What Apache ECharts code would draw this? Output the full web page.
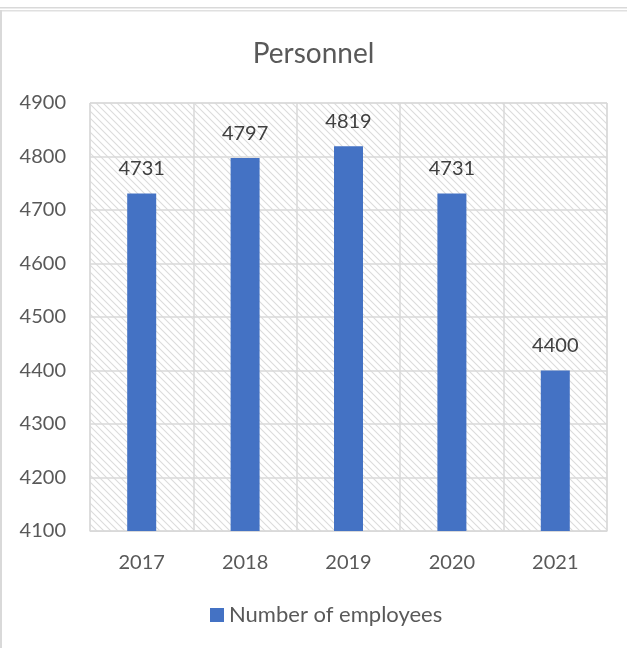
<!DOCTYPE html>
<html><head><meta charset="utf-8">
<script src="https://cdn.jsdelivr.net/npm/echarts@6/dist/echarts.min.js"></script>
<style>html,body{margin:0;padding:0;background:#fff}#c{width:627px;height:648px}</style>
</head><body><div id="c"></div>
<script>
const categories = ['2017','2018','2019','2020','2021'];
const employees = [4731, 4797, 4819, 4731, 4400];
const seriesName = 'Number of employees';
const yMin = 4100, yMax = 4900, yStep = 100;

const P = 7;
const pc = document.createElement('canvas');
pc.width = P; pc.height = P;
const ctx = pc.getContext('2d');
ctx.fillStyle = '#ffffff'; ctx.fillRect(0,0,P,P);
ctx.strokeStyle = '#dcdcdc'; ctx.lineWidth = 1.1;
ctx.beginPath();
ctx.moveTo(-1,-1); ctx.lineTo(P+1,P+1);
ctx.moveTo(-1,P-1); ctx.lineTo(1,P+1);
ctx.moveTo(P-1,-1); ctx.lineTo(P+1,1);
ctx.stroke();

const chart = echarts.init(document.getElementById('c'), null, {renderer:'canvas'});
const font = 'Lato, "Open Sans", sans-serif';
chart.setOption({
  animation:false,
  textStyle:{fontFamily:font},
  title:{text:'Personnel', left:'center', top:35, textStyle:{fontSize:28, fontWeight:'normal', color:'#595959', fontFamily:font}},
  legend:{data:[seriesName], bottom:17, left:205, itemWidth:14, itemHeight:14, icon:'rect', itemGap:5,
    textStyle:{fontSize:22, color:'#595959', fontFamily:font}},
  grid:{left:90, right:20, top:103, bottom:117, show:true, borderColor:'#d9d9d9', borderWidth:1,
    backgroundColor:{image:pc, repeat:'repeat'}},
  xAxis:{type:'category', data:categories, axisTick:{show:false},
    axisLine:{lineStyle:{color:'#d9d9d9'}},
    splitLine:{show:true, interval:0, lineStyle:{color:'#d9d9d9', width:1.5}},
    axisLabel:{fontSize:20, color:'#595959', margin:22, fontFamily:font}},
  yAxis:{type:'value', min:yMin, max:yMax, interval:yStep,
    axisLine:{show:false}, axisTick:{show:false},
    splitLine:{lineStyle:{color:'#d9d9d9', width:1.5}},
    axisLabel:{fontSize:20, color:'#595959', margin:24, fontFamily:font, formatter:v=>String(v)}},
  series:[{name:seriesName, type:'bar', data:employees, barWidth:29,
    itemStyle:{color:'#4472c4'},
    label:{show:true, position:'top', distance:15, fontSize:20, color:'#404040', fontFamily:font}}],
  graphic:[
    {type:'rect', shape:{x:0,y:7,width:627,height:1.5}, style:{fill:'#d9d9d9'}},
    {type:'rect', shape:{x:0,y:10,width:627,height:1.5}, style:{fill:'#e0e0e0'}},
    {type:'rect', shape:{x:0,y:10,width:2,height:638}, style:{fill:'#d9d9d9'}}
  ]
});
</script></body></html>
